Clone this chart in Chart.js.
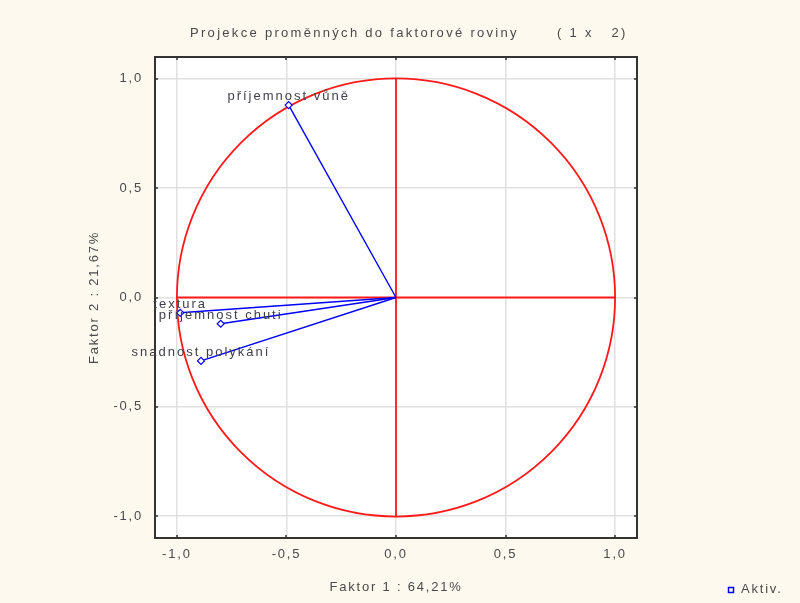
<!DOCTYPE html>
<html>
<head>
<meta charset="utf-8">
<script src="https://cdn.jsdelivr.net/npm/chart.js@4"></script>
<style>
    body { margin: 0; background: #fef9ee; }
</style>
</head>
<body>
<canvas id="faktorChart" width="800" height="603"></canvas>
<script>
// Data
const promenne = ["příjemnost vůně", "textura", "příjemnost chuti", "snadnost polykání"];
const faktor1 = [-0.49, -0.985, -0.80, -0.89];
const faktor2 = [0.88, -0.07, -0.12, -0.29];
const osaTicks = [-1, -0.5, 0, 0.5, 1];

const textColor = "#4a4a4a";
const fontBase = { family: "Liberation Sans, Arial, sans-serif", size: 13 };

function formatTick(v) {
    return Number(v).toFixed(1).replace(".", ",");
}

// one line from origin to each variable
let datasets = promenne.map(function (name, i) {
    return {
        label: name,
        data: [{ x: 0, y: 0 }, { x: faktor1[i], y: faktor2[i] }],
        showLine: true,
        borderColor: "#0000ff",
        borderWidth: 1.4,
        pointStyle: "rectRot",
        pointRadius: [0, 3.5],
        pointBorderColor: "#0000ff",
        pointBackgroundColor: "#ffffff",
        pointBorderWidth: 1.2
    };
});

// background, circle, labels, title, legend
const kresba = {
    id: "kresba",
    beforeDraw(chart) {
        const ctx = chart.ctx;
        const a = chart.chartArea;
        ctx.save();
        ctx.fillStyle = "#fef9ee";
        ctx.fillRect(0, 0, chart.width, chart.height);
        ctx.fillStyle = "#ffffff";
        ctx.fillRect(a.left, a.top, a.right - a.left, a.bottom - a.top);
        ctx.restore();
        ctx.letterSpacing = "1.8px";
    },
    beforeDatasetsDraw(chart) {
        const ctx = chart.ctx;
        const x = chart.scales.x, y = chart.scales.y;
        const cx = x.getPixelForValue(0), cy = y.getPixelForValue(0);
        const r = x.getPixelForValue(1) - cx;
        ctx.save();
        ctx.strokeStyle = "#ff1a1a";
        ctx.lineWidth = 1.8;
        ctx.beginPath();
        ctx.arc(cx, cy, r, 0, Math.PI * 2);
        ctx.stroke();
        ctx.beginPath();
        ctx.moveTo(x.getPixelForValue(-1), cy);
        ctx.lineTo(x.getPixelForValue(1), cy);
        ctx.moveTo(cx, y.getPixelForValue(1));
        ctx.lineTo(cx, y.getPixelForValue(-1));
        ctx.stroke();
        ctx.restore();
    },
    afterDraw(chart) {
        const ctx = chart.ctx;
        const a = chart.chartArea;
        const x = chart.scales.x, y = chart.scales.y;
        ctx.save();
        // frame
        ctx.strokeStyle = "#333333";
        ctx.lineWidth = 2;
        ctx.strokeRect(a.left, a.top, a.right - a.left, a.bottom - a.top);
        // tick marks inside the frame
        ctx.strokeStyle = "#333333";
        ctx.lineWidth = 1.5;
        ctx.beginPath();
        osaTicks.forEach(function (v) {
            const px = Math.round(x.getPixelForValue(v));
            ctx.moveTo(px, a.bottom);
            ctx.lineTo(px, a.bottom - 3);
            ctx.moveTo(px, a.top);
            ctx.lineTo(px, a.top + 3);
            const py = Math.round(y.getPixelForValue(v));
            ctx.moveTo(a.left, py);
            ctx.lineTo(a.left + 3, py);
            ctx.moveTo(a.right, py);
            ctx.lineTo(a.right - 3, py);
        });
        ctx.stroke();

        // point labels
        ctx.font = "13px Liberation Sans, Arial, sans-serif";
        ctx.letterSpacing = "2px";
        ctx.fillStyle = "#3e3e4a";
        ctx.textAlign = "center";
        ctx.textBaseline = "alphabetic";
        promenne.forEach(function (name, i) {
            ctx.fillText(name, x.getPixelForValue(faktor1[i]), y.getPixelForValue(faktor2[i]) - 5);
        });

        // title
        ctx.letterSpacing = "2.3px";
        ctx.fillStyle = textColor;
        ctx.textAlign = "left";
        ctx.textBaseline = "middle";
        ctx.fillText("Projekce proměnných do faktorové roviny", 190, 33);
        ctx.fillText("( 1 x   2)", 557, 33);

        // legend
        ctx.letterSpacing = "1.8px";
        ctx.fillText("Aktiv.", 741, 589);
        ctx.strokeStyle = "#0000ff";
        ctx.lineWidth = 1.5;
        ctx.strokeRect(728.5, 587.5, 5, 5);
        ctx.restore();
        ctx.letterSpacing = "0px";
    }
};

new Chart(document.getElementById("faktorChart"), {
    type: "scatter",
    data: { datasets: datasets },
    options: {
        responsive: false,
        animation: false,
        devicePixelRatio: 1,
        layout: { padding: { top: 57, right: 163, bottom: 0, left: 0 } },
        plugins: {
            legend: { display: false },
            tooltip: { enabled: false }
        },
        scales: {
            x: {
                type: "linear",
                min: -1.1,
                max: 1.1,
                afterBuildTicks: function (s) { s.ticks = osaTicks.map(v => ({ value: v })); },
                afterFit: function (s) { s.height = 65; },
                grid: { color: "#e0e0e0", lineWidth: 1.5, drawTicks: false },
                border: { display: false },
                ticks: { callback: formatTick, padding: 9, color: textColor, font: fontBase },
                title: { display: true, text: "Faktor 1 : 64,21%", color: textColor, font: fontBase, padding: { top: 0, bottom: 8 } }
            },
            y: {
                type: "linear",
                min: -1.1,
                max: 1.1,
                afterBuildTicks: function (s) { s.ticks = osaTicks.map(v => ({ value: v })); },
                afterFit: function (s) { s.width = 155; },
                grid: { color: "#e0e0e0", lineWidth: 1.5, drawTicks: false },
                border: { display: false },
                ticks: { callback: formatTick, padding: 12, color: textColor, font: fontBase },
                title: { display: true, text: "Faktor 2 : 21,67%", color: textColor, font: fontBase, padding: { top: 87, bottom: 0 } }
            }
        }
    },
    plugins: [kresba]
});
</script>
</body>
</html>
